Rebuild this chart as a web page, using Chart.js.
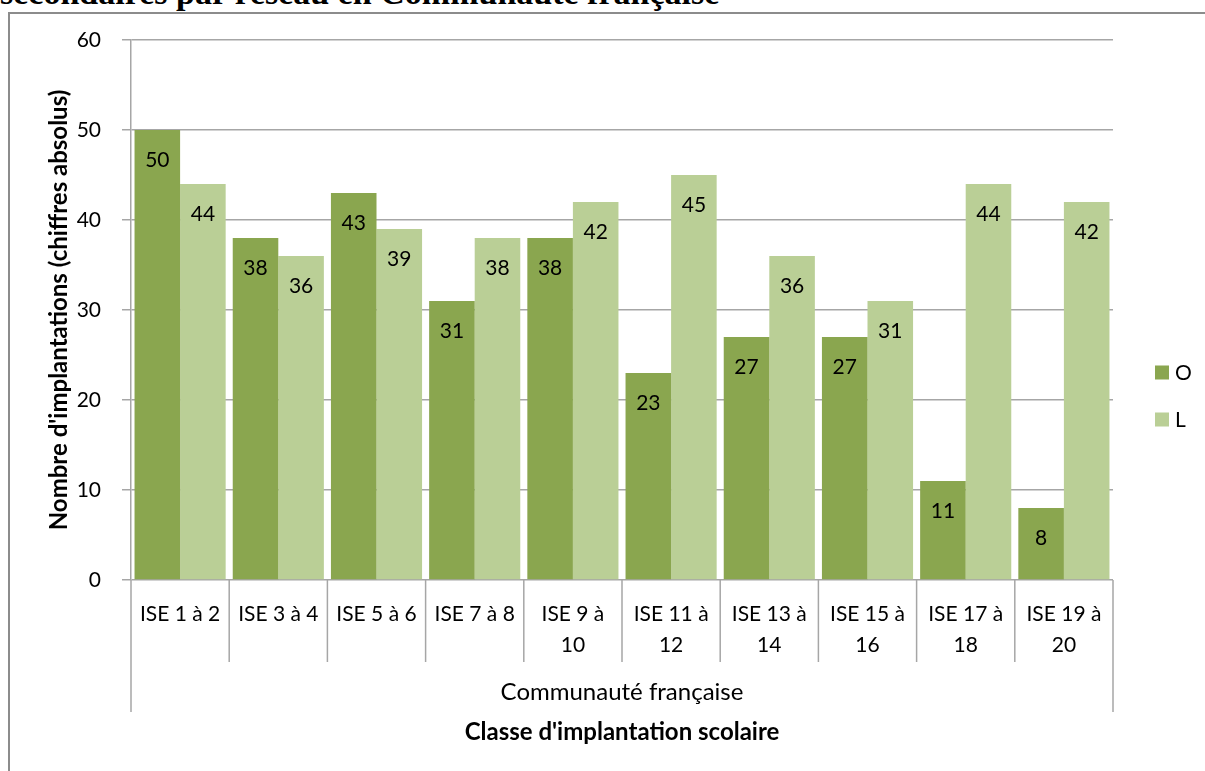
<!DOCTYPE html>
<html lang="fr">
<head>
<meta charset="utf-8">
<script src="https://cdn.jsdelivr.net/npm/chart.js@4/dist/chart.umd.min.js"></script>
<style>
  html, body { margin: 0; padding: 0; width: 1205px; height: 771px; overflow: hidden; background: #fff; }
  #heading { position: absolute; left: 0; top: -24px; font: bold 34px "Liberation Serif", "DejaVu Serif", serif; line-height: 34px; white-space: nowrap; color: #000; }
  #frame { position: absolute; left: 8px; top: 12px; width: 1220px; height: 800px; border: 2px solid #8c8c8c; box-sizing: border-box; background: #fff; }
  #wrap { position: absolute; left: 0; top: 0; width: 1205px; height: 771px; }
</style>
</head>
<body>
<div id="heading">secondaires par réseau en Communauté française</div>
<div id="frame"></div>
<div id="wrap"><canvas id="chart" width="1205" height="771"></canvas></div>
<script>
// Classes d'implantation (ISE), one entry per bar group; arrays give line breaks
const categories = [
  ['ISE 1 à 2'], ['ISE 3 à 4'], ['ISE 5 à 6'], ['ISE 7 à 8'],
  ['ISE 9 à', '10'], ['ISE 11 à', '12'], ['ISE 13 à', '14'],
  ['ISE 15 à', '16'], ['ISE 17 à', '18'], ['ISE 19 à', '20']
];
const seriesNames = ['O', 'L'];
const valuesO = [50, 38, 43, 31, 38, 23, 27, 27, 11, 8];
const valuesL = [44, 36, 39, 38, 42, 45, 36, 31, 44, 42];
const yMin = 0, yMax = 60, yStep = 10;
const groupLabel = 'Communauté française';
const xTitle = "Classe d'implantation scolaire";
const yTitle = "Nombre d'implantations (chiffres absolus)";

const FONT = 'Lato, "Open Sans", sans-serif';
const AXIS_GREY = '#a6a6a6';

// Value printed inside the top of each bar
const barValues = {
  id: 'barValues',
  afterDatasetsDraw(chart) {
    const ctx = chart.ctx;
    ctx.save();
    ctx.font = '21px ' + FONT;
    ctx.fillStyle = '#000';
    ctx.textAlign = 'center';
    ctx.textBaseline = 'middle';
    chart.data.datasets.forEach((ds, di) => {
      chart.getDatasetMeta(di).data.forEach((bar, i) => {
        ctx.fillText(String(ds.data[i]), bar.x, bar.y + 30);
      });
    });
    ctx.restore();
  }
};

// Two-level category axis: separators between groups and the outer group label
const groupAxis = {
  id: 'groupAxis',
  afterDraw(chart) {
    const { ctx, chartArea } = chart;
    const x = chart.scales.x;
    const n = chart.data.labels.length;
    const bottom = chartArea.bottom;
    ctx.save();
    ctx.strokeStyle = AXIS_GREY;
    ctx.lineWidth = 1.5;
    for (let i = 0; i <= n; i++) {
      let px;
      if (i === 0) px = chartArea.left;
      else if (i === n) px = chartArea.right;
      else px = (x.getPixelForValue(i - 1) + x.getPixelForValue(i)) / 2;
      const len = (i === 0 || i === n) ? 132 : 82;
      ctx.beginPath();
      ctx.moveTo(px, bottom);
      ctx.lineTo(px, bottom + len);
      ctx.stroke();
    }
    ctx.font = '24px ' + FONT;
    ctx.fillStyle = '#000';
    ctx.textAlign = 'center';
    ctx.textBaseline = 'middle';
    ctx.fillText(groupLabel, (chartArea.left + chartArea.right) / 2, bottom + 112);
    ctx.restore();
  }
};

// Series key at the right of the plot
const sideLegend = {
  id: 'sideLegend',
  afterDraw(chart) {
    const ctx = chart.ctx;
    const left = chart.chartArea.right + 42;
    const centerY = (chart.chartArea.top + chart.chartArea.bottom) / 2 + 86;
    const gap = 47;
    ctx.save();
    ctx.font = '21px ' + FONT;
    ctx.textBaseline = 'middle';
    ctx.textAlign = 'left';
    chart.data.datasets.forEach((ds, i) => {
      const cy = centerY - gap / 2 + i * gap;
      ctx.fillStyle = ds.backgroundColor;
      ctx.fillRect(left, cy - 7, 14, 14);
      ctx.fillStyle = '#000';
      ctx.fillText(ds.label, left + 20, cy + 1);
    });
    ctx.restore();
  }
};

new Chart(document.getElementById('chart'), {
  type: 'bar',
  data: {
    labels: categories,
    datasets: [
      { label: seriesNames[0], data: valuesO, backgroundColor: '#8aa64f' },
      { label: seriesNames[1], data: valuesL, backgroundColor: '#bacf96' }
    ]
  },
  options: {
    responsive: false,
    animation: false,
    devicePixelRatio: 1,
    layout: { padding: { top: 40, right: 92, bottom: 0, left: 0 } },
    datasets: { bar: { categoryPercentage: 0.928, barPercentage: 1 } },
    plugins: { legend: { display: false }, tooltip: { enabled: false } },
    scales: {
      x: {
        offset: true,
        grid: { display: false },
        border: { display: false },
        ticks: { font: { family: FONT, size: 21, lineHeight: 1.5 }, color: '#000', padding: 10, maxRotation: 0, autoSkip: false },
        title: { display: true, text: xTitle, color: '#000', font: { family: FONT, size: 24, weight: 'bold' }, padding: { top: 0, bottom: 24 } },
        afterFit(scale) { scale.height = 191; }
      },
      y: {
        min: yMin, max: yMax,
        ticks: { stepSize: yStep, font: { family: FONT, size: 21 }, color: '#000', padding: 21 },
        grid: { color: AXIS_GREY, lineWidth: 1.5, tickLength: 9 },
        border: { color: AXIS_GREY, width: 1.5 },
        title: { display: true, text: yTitle, color: '#000', font: { family: FONT, size: 24, weight: 'bold' }, padding: { top: 45, bottom: 0 } },
        afterFit(scale) { scale.width = 131; }
      }
    }
  },
  plugins: [barValues, groupAxis, sideLegend]
});
</script>
</body>
</html>
